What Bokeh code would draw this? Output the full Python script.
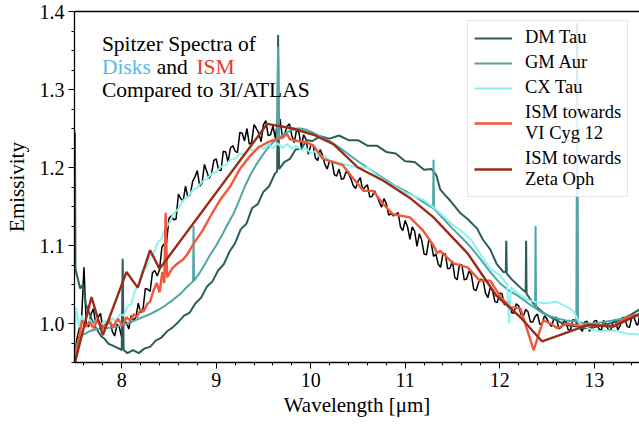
from bokeh.plotting import figure
from bokeh.models import (Range1d, LinearAxis, Legend, LegendItem, Label,
                          FixedTicker, NumeralTickFormatter)
from bokeh.embed import file_html
from bokeh.resources import INLINE

FONT = "Liberation Serif"

# ---------------- data ----------------
# 3I/ATLAS spectrum, read in two interleaved passes
atlas_x = [7.50, 7.55, 7.60, 7.65, 7.70, 7.75, 7.80, 7.85, 7.90, 7.95,
           8.00, 8.05, 8.10, 8.15, 8.20, 8.25, 8.30, 8.35, 8.40, 8.45,
           8.50, 8.55, 8.60, 8.65, 8.70, 8.75, 8.80, 8.85, 8.90, 8.95,
           9.00, 9.05, 9.10, 9.15, 9.20, 9.25, 9.30, 9.35, 9.40, 9.45,
           9.50, 9.55, 9.60, 9.65, 9.70, 9.75, 9.80, 9.85, 9.90, 9.95,
           10.00, 10.05, 10.10, 10.15, 10.20, 10.25, 10.30, 10.35, 10.40, 10.45,
           10.50, 10.55, 10.60, 10.65, 10.70, 10.75, 10.80, 10.85, 10.90, 10.95,
           11.00, 11.05, 11.10, 11.15, 11.20, 11.25, 11.30, 11.35, 11.40, 11.45,
           11.50, 11.55, 11.60, 11.65, 11.70, 11.75, 11.80, 11.85, 11.90, 11.95,
           12.00, 12.05, 12.10, 12.15, 12.20, 12.25, 12.30, 12.35, 12.40, 12.45,
           12.50, 12.55, 12.60, 12.65, 12.70, 12.75, 12.80, 12.85, 12.90, 12.95,
           13.00, 13.05, 13.10, 13.15, 13.20, 13.25, 13.30, 13.35, 13.40, 13.45, 13.48]
atlas_y = [0.955, 0.993, 1.072, 0.996, 1.019, 1.008, 0.993, 1.003, 0.990, 0.999,
           0.982, 1.001, 1.010, 1.008, 1.014, 1.045, 1.041, 1.068, 1.069, 1.102,
           1.135, 1.133, 1.166, 1.157, 1.162, 1.182, 1.196, 1.180, 1.195, 1.192,
           1.211, 1.196, 1.220, 1.225, 1.221, 1.245, 1.234, 1.230, 1.255, 1.244,
           1.255, 1.241, 1.253, 1.260, 1.240, 1.253, 1.241, 1.248, 1.226, 1.236,
           1.228, 1.212, 1.223, 1.204, 1.209, 1.191, 1.198, 1.186, 1.192, 1.177,
           1.182, 1.171, 1.178, 1.163, 1.164, 1.149, 1.154, 1.141, 1.140, 1.124,
           1.132, 1.108, 1.118, 1.115, 1.089, 1.107, 1.086, 1.076, 1.090, 1.070,
           1.080, 1.056, 1.075, 1.057, 1.063, 1.042, 1.057, 1.039, 1.046, 1.028,
           1.039, 1.024, 1.029, 1.013, 1.023, 1.009, 1.015, 1.002, 1.012, 1.000,
           1.006, 0.996, 1.008, 0.995, 1.003, 0.992, 1.004, 0.994, 1.002, 0.990,
           1.003, 0.993, 1.004, 0.992, 1.002, 0.992, 1.008, 0.996, 1.009, 0.998, 1.010]
atlas_x2 = [7.525, 7.575, 7.625, 7.675, 7.725, 7.775, 7.825, 7.875, 7.925, 7.975,
            8.025, 8.075, 8.125, 8.175, 8.225, 8.275, 8.325, 8.375, 8.425, 8.475,
            8.525, 8.575, 8.625, 8.675, 8.725, 8.775, 8.825, 8.875, 8.925, 8.975,
            9.025, 9.075, 9.125, 9.175, 9.225, 9.275, 9.325, 9.375, 9.425, 9.475,
            9.525, 9.575, 9.625, 9.675, 9.725, 9.775, 9.825, 9.875, 9.925, 9.975,
            10.025, 10.075, 10.125, 10.175, 10.225, 10.275, 10.325, 10.375, 10.425, 10.475,
            10.525, 10.575, 10.625, 10.675, 10.725, 10.775, 10.825, 10.875, 10.925, 10.975,
            11.025, 11.075, 11.125, 11.175, 11.225, 11.275, 11.325, 11.375, 11.425, 11.475,
            11.525, 11.575, 11.625, 11.675, 11.725, 11.775, 11.825, 11.875, 11.925, 11.975,
            12.025, 12.075, 12.125, 12.175, 12.225, 12.275, 12.325, 12.375, 12.425, 12.475,
            12.525, 12.575, 12.625, 12.675, 12.725, 12.775, 12.825, 12.875, 12.925, 12.975,
            13.025, 13.075, 13.125, 13.175, 13.225, 13.275, 13.325, 13.375, 13.425, 13.465]
atlas_y2 = [0.980, 1.005, 0.997, 1.012, 0.999, 1.013, 0.995, 1.006, 0.984, 0.995,
            1.003, 0.993, 1.004, 1.026, 1.018, 1.044, 1.065, 1.061, 1.098, 1.104,
            1.138, 1.134, 1.160, 1.176, 1.165, 1.188, 1.176, 1.204, 1.186, 1.209,
            1.197, 1.221, 1.207, 1.228, 1.219, 1.244, 1.250, 1.232, 1.250, 1.233,
            1.260, 1.242, 1.238, 1.262, 1.243, 1.256, 1.232, 1.245, 1.242, 1.217,
            1.229, 1.209, 1.216, 1.198, 1.208, 1.189, 1.185, 1.195, 1.186, 1.173,
            1.187, 1.175, 1.162, 1.170, 1.156, 1.160, 1.139, 1.138, 1.142, 1.119,
            1.124, 1.124, 1.099, 1.107, 1.088, 1.104, 1.089, 1.072, 1.089, 1.071,
            1.059, 1.076, 1.056, 1.067, 1.044, 1.052, 1.055, 1.033, 1.042, 1.027,
            1.038, 1.027, 1.014, 1.025, 1.012, 1.018, 1.002, 1.009, 0.999, 1.010,
            1.000, 1.007, 0.993, 1.002, 0.992, 1.005, 0.998, 0.990, 1.003, 0.995,
            1.004, 0.991, 0.999, 0.991, 1.005, 0.997, 1.006, 0.995, 1.007, 0.999]

dmtau_x = [7.50, 7.505, 7.51, 7.53, 7.56, 7.59, 7.62, 7.66, 7.70, 7.74, 7.78, 7.82,
           7.86, 7.90, 7.95, 8.00, 8.01, 8.02, 8.06, 8.12, 8.18, 8.24, 8.30, 8.36,
           8.42, 8.48, 8.54, 8.60, 8.66, 8.72, 8.78, 8.84, 8.90, 8.96, 9.02, 9.08,
           9.14, 9.20, 9.26, 9.32, 9.38, 9.44, 9.50, 9.56, 9.62, 9.645, 9.655, 9.665,
           9.72, 9.78, 9.84, 9.90, 9.96, 10.02, 10.10, 10.20, 10.30, 10.40, 10.50,
           10.60, 10.70, 10.80, 10.90, 11.00, 11.10, 11.20, 11.28, 11.33, 11.37,
           11.42, 11.48, 11.58, 11.66, 11.76, 11.82, 11.90, 11.97, 12.04, 12.065,
           12.07, 12.075, 12.14, 12.22, 12.275, 12.28, 12.285, 12.32, 12.38, 12.46,
           12.54, 12.62, 12.70, 12.815, 12.82, 12.825, 12.90, 13.00, 13.10, 13.20,
           13.30, 13.40, 13.48]
dmtau_y = [1.100, 1.245, 1.070, 1.060, 1.045, 1.050, 1.025, 1.012, 1.000, 0.992, 0.984, 0.980,
           0.974, 0.972, 0.969, 0.966, 1.083, 0.966, 0.962, 0.966, 0.962, 0.968, 0.970, 0.978,
           0.982, 0.990, 0.995, 1.002, 1.010, 1.014, 1.026, 1.033, 1.047, 1.054, 1.068, 1.076,
           1.092, 1.103, 1.121, 1.128, 1.148, 1.153, 1.169, 1.176, 1.192, 1.195, 1.370, 1.198,
           1.207, 1.211, 1.223, 1.224, 1.235, 1.234, 1.240, 1.237, 1.241, 1.235, 1.235,
           1.228, 1.228, 1.220, 1.218, 1.208, 1.207, 1.197, 1.198, 1.190, 1.172,
           1.165, 1.157, 1.142, 1.134, 1.122, 1.108, 1.095, 1.076, 1.066, 1.066,
           1.106, 1.064, 1.055, 1.046, 1.040, 1.106, 1.038, 1.032, 1.022, 1.014,
           1.008, 1.003, 0.998, 0.996, 1.385, 0.996, 0.994, 0.995, 0.998, 1.001,
           1.006, 1.012, 1.018]

gmaur_x = [7.50, 7.53, 7.58, 7.66, 7.74, 7.82, 7.90, 7.98, 8.06, 8.14, 8.22, 8.30,
           8.38, 8.46, 8.54, 8.62, 8.70, 8.755, 8.76, 8.765, 8.82, 8.88, 8.94, 9.00,
           9.06, 9.12, 9.18, 9.24, 9.30, 9.36, 9.42, 9.48, 9.54, 9.60, 9.645, 9.655,
           9.665, 9.72, 9.78, 9.84, 9.90, 9.96, 10.02, 10.10, 10.20, 10.30, 10.40,
           10.50, 10.60, 10.70, 10.80, 10.90, 11.00, 11.10, 11.20, 11.295, 11.30,
           11.305, 11.40, 11.50, 11.60, 11.70, 11.80, 11.90, 12.00, 12.10, 12.20,
           12.30, 12.375, 12.38, 12.385, 12.46, 12.54, 12.62, 12.70, 12.815, 12.82,
           12.825, 12.90, 13.00, 13.10, 13.20, 13.30, 13.40, 13.48]
gmaur_y = [0.960, 0.975, 0.985, 0.990, 0.993, 0.994, 0.995, 0.997, 1.000, 1.004, 1.008, 1.012,
           1.017, 1.023, 1.030, 1.038, 1.048, 1.054, 1.125, 1.055, 1.064, 1.076, 1.089, 1.100,
           1.113, 1.127, 1.140, 1.157, 1.175, 1.190, 1.203, 1.214, 1.224, 1.232, 1.236, 1.355,
           1.238, 1.243, 1.247, 1.250, 1.250, 1.248, 1.245, 1.240, 1.234, 1.226, 1.217,
           1.208, 1.200, 1.192, 1.184, 1.176, 1.170, 1.163, 1.155, 1.148, 1.210,
           1.147, 1.135, 1.122, 1.110, 1.097, 1.082, 1.066, 1.052, 1.042, 1.035,
           1.026, 1.020, 1.125, 1.019, 1.013, 1.009, 1.006, 1.004, 1.003, 1.300,
           1.002, 1.000, 1.000, 1.002, 1.004, 1.006, 1.008, 1.010]

cxtau_x = [7.50, 7.52, 7.55, 7.58, 7.62, 7.66, 7.70, 7.74, 7.78, 7.82, 7.86, 7.90,
           7.94, 7.98, 8.02, 8.06, 8.10, 8.14, 8.18, 8.22, 8.26, 8.30, 8.34, 8.38,
           8.42, 8.46, 8.50, 8.55, 8.60, 8.65, 8.70, 8.75, 8.80, 8.85, 8.90, 8.95,
           9.00, 9.05, 9.10, 9.15, 9.20, 9.25, 9.30, 9.35, 9.40, 9.45, 9.50, 9.55,
           9.60, 9.65, 9.70, 9.75, 9.80, 9.85, 9.90, 9.95, 10.00, 10.05, 10.10, 10.15,
           10.20, 10.30, 10.40, 10.50, 10.60, 10.70, 10.80, 10.90, 11.00, 11.10,
           11.20, 11.30, 11.40, 11.50, 11.60, 11.70, 11.80, 11.90, 12.00, 12.08,
           12.10, 12.12, 12.20, 12.30, 12.40, 12.50, 12.60, 12.70, 12.78, 12.85,
           12.95, 13.05, 13.15, 13.25, 13.35, 13.48]
cxtau_y = [0.985, 1.020, 0.995, 1.010, 0.995, 1.005, 0.997, 1.006, 0.998, 1.004, 0.999, 1.007,
           1.002, 1.012, 1.010, 1.022, 1.025, 1.042, 1.050, 1.068, 1.072, 1.086, 1.090, 1.104,
           1.108, 1.122, 1.128, 1.141, 1.147, 1.158, 1.162, 1.171, 1.174, 1.182, 1.185, 1.192,
           1.194, 1.201, 1.203, 1.210, 1.211, 1.218, 1.217, 1.224, 1.221, 1.228, 1.224, 1.230,
           1.225, 1.231, 1.225, 1.230, 1.224, 1.228, 1.222, 1.225, 1.218, 1.221, 1.213, 1.215,
           1.208, 1.206, 1.203, 1.200, 1.200, 1.190, 1.182, 1.175, 1.168, 1.163,
           1.158, 1.149, 1.138, 1.127, 1.118, 1.107, 1.088, 1.070, 1.062, 1.050,
           1.000, 1.046, 1.038, 1.030, 1.027, 1.026, 1.028, 1.022, 1.016, 1.000,
           0.993, 0.990, 0.991, 0.990, 0.987, 0.986]

vicyg_x = [7.505, 7.52, 7.58, 7.62, 7.66, 7.70, 7.74, 7.80, 7.86, 7.91, 7.96, 8.01,
           8.05, 8.09, 8.13, 8.16, 8.20, 8.23, 8.27, 8.30, 8.33, 8.37, 8.40, 8.43,
           8.45, 8.465, 8.48, 8.53, 8.59, 8.65, 8.69, 8.76, 8.86, 8.95, 9.05, 9.15,
           9.25, 9.36, 9.45, 9.54, 9.62, 9.70, 9.75, 9.78, 9.86, 9.96, 10.03, 10.13,
           10.24, 10.34, 10.45, 10.56, 10.66, 10.77, 10.87, 11.05, 11.19, 11.30,
           11.34, 11.37, 11.51, 11.66, 11.79, 11.90, 12.01, 12.11, 12.22, 12.36,
           12.46, 12.54, 12.61, 12.72, 12.85, 13.03, 13.20, 13.35, 13.48]
vicyg_y = [0.950, 0.962, 1.004, 0.996, 1.002, 0.994, 1.004, 0.995, 1.003, 0.996, 1.006, 0.997,
           1.008, 1.004, 1.012, 1.008, 1.018, 1.015, 1.025, 1.028, 1.040, 1.052, 1.040, 1.066,
           1.052, 1.142, 1.059, 1.070, 1.077, 1.082, 1.088, 1.102, 1.120, 1.140, 1.160, 1.176,
           1.198, 1.215, 1.226, 1.232, 1.236, 1.238, 1.243, 1.236, 1.234, 1.232, 1.228, 1.211,
           1.207, 1.203, 1.186, 1.170, 1.170, 1.153, 1.140, 1.136, 1.119, 1.100,
           1.090, 1.093, 1.077, 1.072, 1.055, 1.055, 1.034, 1.021, 1.019, 0.966,
           1.004, 1.000, 0.994, 1.000, 0.997, 0.998, 0.996, 1.008, 1.012]

zeta_x = [7.505, 7.68, 7.80, 8.05, 8.17, 8.30, 8.40, 9.54, 9.81, 10.03, 10.24,
          10.50, 10.77, 11.05, 11.30, 11.66, 11.97, 12.22, 12.45, 12.93, 13.20, 13.48]
zeta_y = [0.950, 1.034, 0.985, 1.066, 1.046, 1.094, 1.070, 1.256, 1.250, 1.242, 1.230,
          1.200, 1.183, 1.161, 1.136, 1.090, 1.035, 1.008, 0.977, 0.998, 0.996, 1.012]

x_ticks = [8, 9, 10, 11, 12, 13]
y_ticks = [1.0, 1.1, 1.2, 1.3, 1.4]
x_minor = [7.6, 7.8, 8.2, 8.4, 8.6, 8.8, 9.2, 9.4, 9.6, 9.8, 10.2, 10.4, 10.6, 10.8,
           11.2, 11.4, 11.6, 11.8, 12.2, 12.4, 12.6, 12.8, 13.2, 13.4]
y_minor = [0.95, 0.975, 1.025, 1.05, 1.075, 1.125, 1.15, 1.175, 1.225, 1.25, 1.275,
           1.325, 1.35, 1.375]

series_labels = ["DM Tau", "GM Aur", "CX Tau", "ISM towards\nVI Cyg 12", "ISM towards\nZeta Oph"]
series_colors = ["#2d5c5c", "#4fa6a8", "#8cf2ec", "#f0573b", "#9a2c19"]

# merge the two passes of the 3I/ATLAS spectrum in wavelength order
atlas_pairs = sorted(zip(atlas_x + atlas_x2, atlas_y + atlas_y2))
atlas_all_x = [a for a, _ in atlas_pairs]
atlas_all_y = [b for _, b in atlas_pairs]

# ---------------- figure ----------------
p = figure(width=639, height=426, output_backend="svg", toolbar_location=None,
           x_range=Range1d(7.5, 13.48), y_range=Range1d(0.95, 1.4),
           min_border_left=74, min_border_right=0, min_border_top=11,
           min_border_bottom=64, background_fill_color="white",
           border_fill_color="white")
p.outline_line_color = None
p.grid.visible = False

p.xaxis.ticker = FixedTicker(ticks=x_ticks, minor_ticks=x_minor)
p.yaxis.ticker = FixedTicker(ticks=y_ticks, minor_ticks=y_minor)
p.xaxis.formatter = NumeralTickFormatter(format="0")
p.yaxis.formatter = NumeralTickFormatter(format="0.0")
p.xaxis.axis_label = "Wavelength [\u03bcm]"
p.yaxis.axis_label = "Emissivity"
for ax in (p.xaxis[0], p.yaxis[0]):
    ax.axis_line_color = "black"
    ax.axis_line_width = 1.3
    ax.major_tick_line_color = "black"
    ax.minor_tick_line_color = "black"
    ax.major_tick_in = 0
    ax.major_tick_out = 6
    ax.minor_tick_in = 0
    ax.minor_tick_out = 3
    ax.major_label_text_font = FONT
    ax.major_label_text_font_size = "20px"
    ax.major_label_text_color = "black"
    ax.axis_label_text_font = FONT
    ax.axis_label_text_font_size = "21px"
    ax.axis_label_text_font_style = "normal"
    ax.axis_label_text_color = "black"
p.yaxis.major_label_standoff = 4
p.yaxis.axis_label_standoff = 8
p.xaxis.major_label_standoff = 4
p.xaxis.axis_label_standoff = 3

top = LinearAxis(ticker=FixedTicker(ticks=[]), major_tick_out=0, minor_tick_out=0,
                 major_label_text_font_size="0px", axis_line_color="black",
                 axis_line_width=1.3)
p.add_layout(top, "above")

r_atlas = p.line(atlas_all_x, atlas_all_y, line_color="black", line_width=1.5)
r_dm = p.line(dmtau_x, dmtau_y, line_color=series_colors[0], line_width=2)
r_gm = p.line(gmaur_x, gmaur_y, line_color=series_colors[1], line_width=2)
r_cx = p.line(cxtau_x, cxtau_y, line_color=series_colors[2], line_width=2)
r_vi = p.line(vicyg_x, vicyg_y, line_color=series_colors[3], line_width=2.4)
r_ze = p.line(zeta_x, zeta_y, line_color=series_colors[4], line_width=2.4)

items = [LegendItem(label=lab, renderers=[r])
         for lab, r in zip(series_labels, [r_dm, r_gm, r_cx, r_vi, r_ze])]
legend = Legend(items=items, location=(393, 165), label_text_font=FONT,
                label_text_font_size="18.5px", label_text_color="black",
                glyph_width=38, glyph_height=20, label_standoff=13,
                padding=6, spacing=4, margin=0, border_line_color="#cccccc",
                border_line_width=1, background_fill_alpha=0.85)
p.add_layout(legend, "center")

# annotation text
title_lines = ["Spitzer Spectra of", "Disks", "and", "ISM", "Compared to 3I/ATLAS"]
title_colors = ["black", "#5ab8e8", "black", "#e8392c", "black"]
title_x = [7.79, 7.79, 8.37, 8.79, 7.79]
title_y = [1.358, 1.329, 1.329, 1.329, 1.299]
for t, c, tx, ty in zip(title_lines, title_colors, title_x, title_y):
    p.add_layout(Label(x=tx, y=ty, text=t, text_color=c, text_font=FONT,
                       text_font_size="21.5px", text_baseline="alphabetic",
                       text_align="left"))

open("out.html", "w").write(file_html(p, INLINE))
